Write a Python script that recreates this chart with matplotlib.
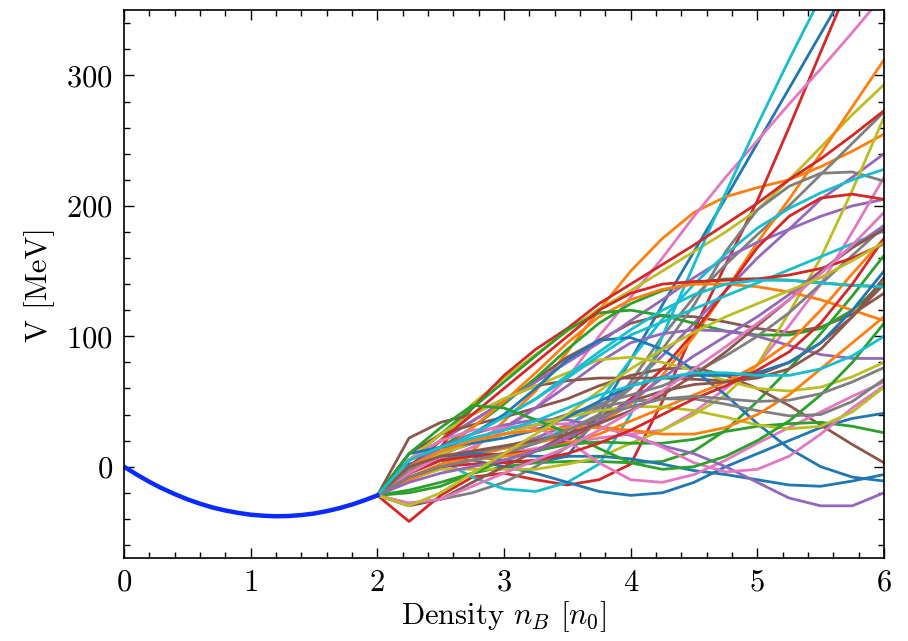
import numpy as np
import matplotlib.pyplot as plt

plt.rcParams['font.family'] = 'serif'
plt.rcParams['font.serif'] = ['cmr10', 'DejaVu Serif']
plt.rcParams['mathtext.fontset'] = 'cm'
plt.rcParams['axes.formatter.use_mathtext'] = True
plt.rcParams['font.size'] = 22

# nuclear part (0 - 2 n0)
x_nuc = [0.0, 0.1, 0.2, 0.3, 0.4, 0.5, 0.6, 0.7, 0.8, 0.9, 1.0,
         1.1, 1.2, 1.3, 1.4, 1.5, 1.6, 1.7, 1.8, 1.9, 2.0]
v_nuc = [0.0, -6.0, -11.6, -16.6, -21.0, -25.0, -28.4, -31.3, -33.6, -35.4, -36.8,
         -37.6, -38.0, -37.8, -37.1, -35.9, -34.1, -31.8, -29.0, -25.7, -22.0]

# high density extensions, sampled on x_ext
x_ext = [2.0, 2.25, 2.5, 2.75, 3.0, 3.25, 3.5, 3.75, 4.0,
         4.25, 4.5, 4.75, 5.0, 5.25, 5.5, 5.75, 6.0]

ext_round1 = [
    [-22, -5, 5, 8, 5, 3, 8, 40, 82, 124, 165, 206, 248, 290, 332, 374, 416],
    [-22, -10, 0, 12, 35, 58, 88, 120, 150, 175, 195, 207, 214, 220, 230, 242, 255],
    [-22, -18, -12, -5, 0, 3, 4, 4, 3, 4, 12, 28, 50, 75, 102, 131, 162],
    [-22, -42, -22, -8, -5, -10, -14, -10, 2, 50, 105, 155, 204, 260, 318, 375, 430],
    [-22, -5, 5, 10, 15, 22, 32, 45, 62, 85, 110, 135, 160, 182, 205, 222, 240],
    [-22, 5, 20, 35, 50, 67, 84, 97, 110, 116, 115, 111, 106, 103, 107, 117, 133],
    [-22, -5, 5, 15, 28, 45, 68, 100, 130, 160, 192, 222, 250, 278, 305, 333, 362],
    [-22, -28, -25, -20, -12, 0, 15, 35, 65, 100, 130, 155, 178, 200, 224, 248, 272],
    [-22, 0, 20, 48, 68, 86, 104, 121, 135, 150, 165, 180, 197, 220, 245, 270, 293],
    [-22, 0, 5, -8, -17, -19, -12, 2, 40, 100, 155, 210, 262, 312, 360, 410, 460],
]
ext_round2 = [
    [-22, -5, 5, 5, 0, -5, -12, -19, -22, -20, -12, 0, 10, 20, 30, 37, 41],
    [-22, -8, 2, 8, 14, 18, 24, 33, 48, 70, 100, 135, 172, 205, 240, 276, 312],
    [-22, 0, 15, 30, 48, 68, 90, 110, 125, 135, 141, 144, 144, 143, 141, 139, 138],
    [-22, -5, 15, 45, 70, 90, 106, 125, 140, 155, 170, 186, 202, 220, 236, 254, 273],
    [-22, 5, 20, 35, 50, 65, 80, 95, 112, 128, 145, 160, 172, 182, 192, 200, 205],
    [-22, 10, 25, 32, 38, 45, 52, 62, 70, 75, 76, 70, 60, 47, 32, 17, 3],
    [-22, -10, 0, 5, 10, 14, 18, 22, 25, 28, 42, 60, 78, 108, 140, 180, 222],
    [-22, -5, 5, 10, 15, 20, 28, 40, 60, 90, 124, 165, 197, 215, 225, 226, 219],
    [-22, -10, -2, -2, -2, -2, 2, 7, 18, 28, 40, 55, 78, 118, 160, 212, 268],
    [-22, -8, 0, 5, 10, 18, 30, 50, 82, 113, 140, 163, 183, 198, 210, 220, 228],
]
ext_round3 = [
    [-22, 2, 8, 10, 9, 8, 8, 8, 6, 2, -3, -6, -10, -14, -15, -11, -6],
    [-22, -5, 10, 30, 50, 72, 95, 115, 128, 136, 140, 140, 138, 134, 128, 120, 112],
    [-22, 5, 25, 45, 65, 85, 105, 118, 120, 116, 110, 104, 101, 101, 106, 120, 141],
    [-22, -5, 5, 8, 10, 12, 20, 35, 52, 75, 103, 135, 168, 192, 206, 209, 205],
    [-22, 0, 12, 20, 30, 45, 62, 80, 95, 102, 105, 104, 100, 93, 86, 83, 83],
    [-22, 22, 34, 40, 52, 62, 66, 68, 68, 68, 67, 66, 70, 80, 95, 115, 140],
    [-22, -5, 8, 20, 30, 30, 20, 3, -10, -12, -6, 5, 18, 30, 42, 54, 65],
    [-22, 0, 10, 18, 25, 32, 40, 48, 55, 62, 72, 85, 100, 118, 140, 162, 184],
    [-22, 5, 25, 40, 52, 62, 72, 82, 84, 80, 74, 66, 60, 58, 61, 69, 80],
    [-22, 5, 15, 25, 38, 52, 68, 85, 101, 111, 121, 131, 141, 151, 161, 171, 181],
]
ext_round4 = [
    [-22, 0, 15, 25, 40, 60, 82, 97, 99, 90, 74, 55, 33, 14, 0, -8, -11],
    [-22, -10, 0, 5, 8, 12, 18, 25, 35, 45, 55, 65, 78, 95, 120, 148, 175],
    [-22, -20, -15, -5, 5, 12, 17, 19, 18, 18, 21, 27, 31, 33, 34, 31, 26],
    [-22, 0, 20, 40, 60, 80, 100, 120, 133, 140, 142, 143, 144, 147, 152, 160, 171],
    [-22, 0, 15, 25, 32, 36, 36, 31, 24, 16, 10, 0, -12, -24, -30, -30, -20],
    [-22, -30, -25, -12, 0, 12, 25, 38, 50, 58, 63, 65, 68, 75, 90, 115, 145],
    [-22, 5, 20, 28, 30, 32, 33, 30, 25, 15, 3, -4, -2, 8, 25, 45, 62],
    [-22, -2, 10, 18, 25, 32, 40, 46, 50, 52, 52, 48, 43, 39, 40, 50, 67],
    [-22, 0, 10, 18, 25, 32, 38, 43, 46, 46, 43, 38, 32, 29, 31, 42, 61],
    [-22, 0, 12, 25, 38, 52, 70, 88, 105, 120, 132, 140, 143, 143, 141, 139, 138],
]
ext_round5 = [
    [-22, 10, 15, 18, 22, 28, 38, 50, 62, 68, 70, 70, 72, 80, 95, 120, 150],
    [-22, 0, 12, 20, 25, 28, 30, 30, 28, 25, 25, 30, 40, 55, 75, 95, 115],
    [-22, 10, 30, 47, 45, 36, 26, 14, 3, -2, 0, 8, 20, 35, 55, 80, 110],
    [-22, -8, 0, 2, 3, 5, 10, 18, 28, 40, 52, 62, 74, 88, 110, 140, 175],
    [-22, -12, -5, 0, 5, 12, 22, 35, 50, 68, 85, 100, 115, 132, 150, 168, 185],
    [-22, 0, 8, 12, 16, 20, 25, 33, 43, 55, 70, 88, 108, 128, 150, 168, 182],
    [-22, -28, -25, -15, -5, 5, 15, 28, 42, 58, 75, 92, 110, 128, 148, 170, 195],
    [-22, -8, 0, 5, 10, 18, 28, 38, 46, 52, 54, 52, 50, 51, 56, 65, 76],
    [-22, -30, -20, -5, 10, 25, 40, 58, 75, 90, 103, 115, 125, 135, 145, 158, 172],
    [-22, 5, 15, 22, 28, 35, 45, 55, 62, 68, 72, 72, 70, 70, 75, 85, 100],
]

fig = plt.figure(figsize=(9.08, 6.41), dpi=100)
ax = fig.add_axes([0.1366, 0.1295, 0.837, 0.8545])

for rnd in [ext_round1, ext_round2, ext_round3, ext_round4, ext_round5]:
    for v in rnd:
        ax.plot(x_ext, v, lw=2.0)

ax.plot(x_nuc, v_nuc, color='#0a2bff', lw=3.2)

ax.set_xlim(0, 6)
ax.set_ylim(-70, 350)
ax.set_xticks([0, 1, 2, 3, 4, 5, 6])
ax.set_yticks([0, 100, 200, 300])
ax.set_xticks(np.arange(0, 6.01, 0.2), minor=True)
ax.set_yticks(np.arange(-60, 351, 20), minor=True)
ax.tick_params(which='both', direction='in', top=True, right=True, width=1)
ax.tick_params(which='major', length=7, pad=8)
ax.tick_params(which='minor', length=4)
for s in ax.spines.values():
    s.set_linewidth(1.2)

ax.set_xlabel(r'Density $n_B$ $[n_0]$', labelpad=2)
ax.set_ylabel('V [MeV]', labelpad=8)

fig.savefig('out.png', dpi=100)
